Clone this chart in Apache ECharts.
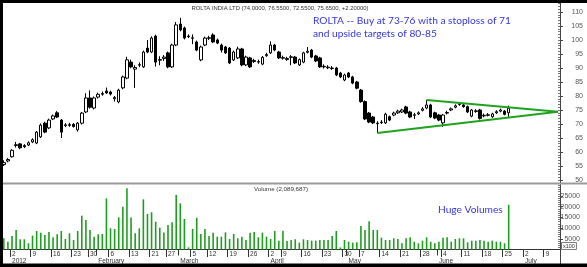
<!DOCTYPE html>
<html><head><meta charset="utf-8">
<script src="https://cdn.jsdelivr.net/npm/echarts@6/dist/echarts.min.js"></script>
<style>html,body{margin:0;padding:0;background:#fff;}#c{width:587px;height:267px;}</style>
</head><body><div id="c"></div>
<script>
// trading days (Dec 2011 .. Jul 2012)
const dec11 = [29,30];
const jan = [2,3,4,5,6,9,10,11,12,13,16,17,18,19,20,23,24,25,27,30,31];
const feb = [1,2,3,6,7,8,9,10,13,14,15,16,17,21,22,23,24,27,28,29];
const mar = [1,2,3,5,6,7,9,12,13,14,15,16,19,20,21,22,23,26,27,28,29,30];
const apr = [2,3,4,9,10,11,12,13,16,17,18,19,20,23,24,25,26,27,30];
const may = [2,3,4,7,8,9,10,11,14,15,16,17,18,21,22,23,24,25,28,29,30,31];
const jun = [1,4,5,6,7,8,11,12,13,14,15,18,19,20,21,22,25,26,27,28,29];
const jul = [2,3,4,5,6,9,10,11,12];
const monthLabels = {0:'2012',1:'February',2:'March',3:'April',4:'May',5:'June',6:'July'};

const opens = [
55.5,56.8,58.3,62.3,62.9,62.3,62.5,63.6,63.2,65.4,
70.3,68.6,71.8,74.0,71.4,69.4,69.5,69.9,67.9,70.3,
74.3,79.3,75.7,79.6,80.6,81.8,81.4,79.0,77.9,82.9,
86.4,92.1,89.6,91.0,90.4,97.1,95.7,101.4,92.8,93.4,
95.4,90.4,98.2,105.7,104.3,101.2,100.6,99.3,92.9,98.2,
100.6,101.8,100.0,98.2,97.5,97.1,92.9,93.6,96.8,91.1,
93.6,92.3,92.1,91.4,94.4,95.4,98.2,95.7,93.5,93.0,
93.8,93.9,91.1,92.1,95.6,96.4,94.3,93.6,90.4,90.1,
89.8,90.0,88.2,85.7,88.2,86.8,85.0,82.1,78.0,73.9,
72.5,70.1,70.5,70.4,72.6,73.2,74.0,74.3,76.1,74.3,
73.1,73.6,74.9,75.7,76.8,74.0,73.2,70.4,73.9,75.0,
76.0,77.0,76.8,76.2,72.8,74.5,75.0,72.9,73.1,72.6,
74.0,74.6,74.6,74.0];
const closes = [
56.2,57.3,60.6,62.6,61.5,61.9,63.3,64.4,67.1,69.6,
67.1,71.4,72.9,72.5,67.1,69.7,69.8,69.1,70.3,73.9,
79.3,76.0,79.3,80.6,80.9,81.1,80.7,79.5,82.1,86.8,
92.9,90.4,90.2,91.2,95.7,95.7,100.7,92.1,93.0,93.9,
90.4,98.2,105.4,103.6,100.7,101.4,100.8,96.4,97.5,100.7,
100.8,99.3,98.9,96.4,95.4,91.8,95.7,96.8,91.1,93.9,
90.4,92.7,92.3,93.8,94.8,98.2,96.4,93.6,93.7,93.4,
94.0,91.8,93.0,95.4,96.0,93.9,92.5,90.4,90.6,90.3,
90.0,87.5,86.8,87.5,86.8,84.6,82.8,78.0,71.8,70.7,
70.4,70.3,70.7,73.5,71.4,73.9,74.6,75.0,73.9,72.5,
73.3,74.0,75.4,76.8,72.5,72.1,71.4,73.2,74.1,75.4,
76.5,77.1,76.2,74.3,75.0,74.7,72.0,73.1,73.3,73.6,
74.4,75.0,73.45,75.65];
const highs = [
57.0,57.8,61.0,63.6,63.2,62.8,63.8,64.9,67.5,70.2,
70.8,71.9,73.4,74.6,71.8,70.3,70.4,70.3,70.7,74.3,
81.0,82.0,79.8,81.2,81.6,83.0,81.9,80.0,82.6,87.3,
94.0,93.0,91.0,92.0,96.2,100.0,101.3,101.9,94.2,94.6,
95.9,98.7,106.4,107.9,104.8,102.0,102.0,99.8,98.0,101.2,
101.5,102.4,100.5,98.7,97.9,97.5,96.2,97.6,97.2,94.4,
94.0,93.3,93.0,94.3,95.4,99.5,98.6,96.1,94.4,94.0,
94.6,94.3,93.4,95.8,97.5,96.8,94.7,94.0,91.3,91.0,
90.7,90.4,88.6,88.0,88.6,87.2,85.4,82.5,78.4,74.3,
72.9,71.0,71.4,74.0,73.0,74.4,75.1,75.5,76.5,74.7,
74.0,74.5,76.0,78.6,77.2,74.4,73.6,73.6,74.7,75.9,
77.0,77.6,77.2,76.6,75.4,75.3,75.4,73.7,73.9,74.0,
74.9,75.5,75.0,76.55];
const lows = [
55.0,56.3,58.0,61.6,61.0,61.4,62.1,63.2,62.8,65.0,
66.7,68.2,71.4,72.1,65.0,68.9,69.0,68.7,67.3,69.8,
73.9,75.5,75.2,79.1,80.1,80.7,80.2,78.0,77.4,82.4,
86.0,89.9,82.9,90.3,90.0,95.3,95.3,90.5,91.0,92.5,
89.9,90.0,97.8,103.1,100.2,100.7,98.5,96.0,92.4,97.8,
100.0,98.9,98.5,95.5,95.0,91.4,92.5,93.2,90.6,90.7,
90.0,91.8,91.5,91.0,94.0,95.0,96.0,93.2,93.0,92.6,
91.0,91.4,90.7,91.7,95.2,93.5,92.1,90.0,89.8,89.6,
89.3,87.1,86.4,85.3,86.4,84.2,82.4,77.6,71.4,70.3,
70.0,66.8,70.0,70.0,71.0,72.8,73.6,73.9,73.5,72.1,
71.8,73.2,74.5,75.3,72.1,71.7,71.0,69.0,73.4,74.6,
75.6,76.5,75.8,73.9,72.4,74.0,71.6,72.4,72.7,72.2,
73.6,74.2,73.1,72.55];
// volume in hundreds of shares
const volumes = [
5230,3650,6300,9100,4770,4770,2900,6500,8640,7850,
6780,8170,5700,7100,8640,4900,7570,4440,8640,15800,
13790,9100,6000,7100,7250,23900,9900,9600,15000,20000,
28600,15000,7570,9900,23450,16600,17400,13000,10200,8000,
11450,12700,25500,21600,14250,1000,9600,14860,7250,9600,
6300,7850,6000,6000,8000,4900,7250,5230,5900,4440,
7850,8170,5700,7850,6000,4900,8640,4130,8800,3970,
4440,4770,3200,4770,4440,4130,4130,4440,4440,4440,
6300,8640,1000,4440,3650,3200,3350,10980,9100,13170,
9100,9100,5530,4440,4440,5230,4900,2900,5230,5700,
3650,2900,4130,5700,3650,2900,3650,5530,5700,3650,
4900,5230,5230,3350,4130,4130,4440,4130,3650,4130,
3650,3650,2900,20897];
const priceTicks = [50,55,60,65,70,75,80,85,90,95,100,105,110];
const priceMinor = [49,50,51,52,53,54,55,56,57,58,59,60,61,62,63,64,65,66,67,68,69,70,71,72,73,74,75,76,77,78,79,80,81,82,83,84,85,86,87,88,89,90,91,92,93,94,95,96,97,98,99,100,101,102,103,104,105,106,107,108,109,110,111,112,113];
const volTicks = [5000,10000,15000,20000,25000];
const volMinor = [1000,2000,3000,4000,5000,6000,7000,8000,9000,10000,11000,12000,13000,14000,15000,16000,17000,18000,19000,20000,21000,22000,23000,24000,25000,26000,27000,28000,29000,30000];
// trend lines: [date index, price]
const trendLower = [[91, 66.8], [135, 74.4]];
const trendUpper = [[103, 78.6], [135, 74.4]];

const titleText = 'ROLTA INDIA LTD (74.0000, 76.5500, 72.5500, 75.6500, +2.20000)';
const volTitle = 'Volume (2,089,687)';
const note1 = 'ROLTA -- Buy at 73-76 with a stoploss of 71';
const note2 = 'and upside targets of 80-85';
const note3 = 'Huge Volumes';

// build categories
const monthsData = [[2011,11,dec11],[2012,0,jan],[2012,1,feb],[2012,2,mar],[2012,3,apr],[2012,4,may],[2012,5,jun],[2012,6,jul]];
const dObjs = [];
monthsData.forEach(([y,m,days]) => days.forEach(d => dObjs.push(new Date(Date.UTC(y,m,d)))));
const cats = dObjs.map(d => d.toISOString().slice(0,10));
function isWeekStart(i){
  if (i <= 0) return false;
  const a = dObjs[i-1], b = dObjs[i];
  return (b - a) >= 3*86400000 || b.getUTCDay() < a.getUTCDay();
}
function isMonthStart(i){
  if (i <= 0) return false;
  return dObjs[i].getUTCMonth() !== dObjs[i-1].getUTCMonth();
}
const candleData = opens.map((o,i) => [o, closes[i], lows[i], highs[i]]);

const chart = echarts.init(document.getElementById('c'), null, {renderer:'canvas'});
const small = {fontSize: 7, fontFamily: 'Liberation Sans, Arial, sans-serif', color: '#555'};
const blue = {fontSize: 10.2, fontFamily: 'Lato, sans-serif', fill: '#3636e6'};
chart.setOption({
  animation: false,
  backgroundColor: '#fff',
  grid: [
    {left: 1.75, right: 27, top: 3, height: 181},
    {left: 1.75, right: 27, top: 184, height: 65.5}
  ],
  xAxis: [
    {type:'category', gridIndex:0, data: cats, show:false},
    {type:'category', gridIndex:1, data: cats, position:'bottom',
      axisLine:{show:true, lineStyle:{color:'#333', width:1}},
      axisTick:{show:true, interval:(i)=>isWeekStart(i), length:7.5, lineStyle:{color:'#333'}},
      axisLabel:{interval:(i)=>isWeekStart(i), formatter:(v)=>String(+v.slice(8,10)), align:'left', margin:1.5,
        fontSize:6.5, fontFamily:'Liberation Sans, Arial, sans-serif', color:'#333'},
      splitLine:{show:false}},
    {type:'category', gridIndex:1, data: cats, position:'bottom', offset:7.5,
      axisLine:{show:true, lineStyle:{color:'#333', width:1}},
      axisTick:{show:true, interval:(i)=>isMonthStart(i), length:6, lineStyle:{color:'#333'}},
      axisLabel:{interval:(i)=>isMonthStart(i), formatter:(v)=>monthLabels[+v.slice(5,7)-1], align:'left', margin:1,
        fontSize:6.5, fontFamily:'Liberation Sans, Arial, sans-serif', color:'#333'},
      splitLine:{show:false}}
  ],
  yAxis: [
    {type:'value', gridIndex:0, position:'right', min:48.571, max:113.214,
      axisLine:{show:true, lineStyle:{color:'#444'}},
      axisTick:{show:true, customValues: priceTicks, length:3, lineStyle:{color:'#444'}},
      axisLabel:{customValues: priceTicks, align:'right', margin:23, formatter:(v)=>String(v), ...small},
      splitLine:{show:false}},
    {type:'value', gridIndex:0, position:'right', min:48.571, max:113.214,
      axisLine:{show:false},
      axisTick:{show:true, inside:true, customValues: priceMinor, length:2, lineStyle:{color:'#777'}},
      axisLabel:{show:false}, splitLine:{show:false}},
    {type:'value', gridIndex:1, position:'right', min:0, max:30607,
      axisLine:{show:true, lineStyle:{color:'#444'}},
      axisTick:{show:true, customValues: volTicks, length:3, lineStyle:{color:'#444'}},
      axisLabel:{customValues: volTicks, align:'right', margin:20, formatter:(v)=>String(v), ...small},
      splitLine:{show:false}},
    {type:'value', gridIndex:1, position:'right', min:0, max:30607,
      axisLine:{show:false},
      axisTick:{show:true, inside:true, customValues: volMinor, length:2, lineStyle:{color:'#777'}},
      axisLabel:{show:false}, splitLine:{show:false}}
  ],
  series: [
    {type:'candlestick', xAxisIndex:0, yAxisIndex:0, data: candleData, barWidth: 3,
      itemStyle:{color:'#fff', color0:'#000', borderColor:'#000', borderColor0:'#000', borderWidth:1},
      markLine:{silent:true, symbol:['none','none'], label:{show:false},
        lineStyle:{color:'#1fa31f', width:2, type:'solid'},
        data:[
          [{coord:[cats[trendLower[0][0]], trendLower[0][1]]}, {coord:[cats[trendLower[1][0]], trendLower[1][1]]}],
          [{coord:[cats[trendUpper[0][0]], trendUpper[0][1]]}, {coord:[cats[trendUpper[1][0]], trendUpper[1][1]]}]
        ]}},
    {type:'bar', xAxisIndex:1, yAxisIndex:2, data: volumes, barWidth: 1.6,
      itemStyle:{color:'#1e9e1e'}}
  ],
  graphic: [
    {type:'line', shape:{x1:3, y1:183.5, x2:587, y2:183.5}, style:{stroke:'#9a9a9a', lineWidth:2}, z:50},
    {type:'line', shape:{x1:560.5, y1:249, x2:560.5, y2:264}, style:{stroke:'#444', lineWidth:1}, z:50},
    {type:'text', style:{text:titleText, x:280, y:8.5, textAlign:'center', textVerticalAlign:'middle',
      fontSize:5.9, fontFamily:'Liberation Sans, Arial, sans-serif', fill:'#333'}, z:60},
    {type:'text', style:{text:volTitle, x:281, y:189.5, textAlign:'center', textVerticalAlign:'middle',
      fontSize:6.2, fontFamily:'Liberation Sans, Arial, sans-serif', fill:'#333'}, z:60},
    {type:'text', style:{text:note1, x:313, y:21, textAlign:'left', textVerticalAlign:'middle', ...blue}, z:60},
    {type:'text', style:{text:note2, x:313, y:34, textAlign:'left', textVerticalAlign:'middle', ...blue}, z:60},
    {type:'text', style:{text:note3, x:438, y:210, textAlign:'left', textVerticalAlign:'middle', ...blue}, z:60},
    {type:'text', style:{text:'x100', x:562, y:246, textAlign:'left', textVerticalAlign:'middle',
      fontSize:5.5, fontFamily:'Liberation Sans, Arial, sans-serif', fill:'#333',
      borderColor:'#555', borderWidth:0.8, padding:[0,1,0,1], backgroundColor:'#fff'}, z:60},
    {type:'rect', shape:{x:0, y:0, width:3, height:267}, style:{fill:'#000'}, z:100},
    {type:'rect', shape:{x:0, y:0, width:587, height:3}, style:{fill:'#000'}, z:100},
    {type:'rect', shape:{x:0, y:263.5, width:587, height:4}, style:{fill:'#000'}, z:100}
  ]
});
</script></body></html>
